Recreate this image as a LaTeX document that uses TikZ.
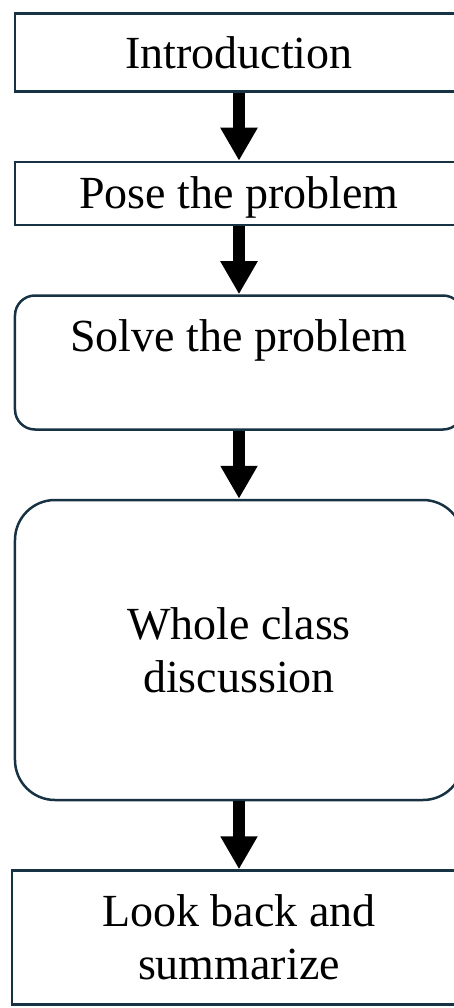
\documentclass[tikz,border=0pt]{standalone}
\usepackage{fontspec}
\setmainfont{Liberation Serif}
\usepackage{tikz}
\usetikzlibrary{arrows.meta, positioning}
\definecolor{boxline}{RGB}{23,50,66}

\begin{document}
\begin{tikzpicture}[node distance=68pt,line width=2.5pt,font=\fontsize{46pt}{53pt}\selectfont]
		\tikzstyle{stage}=[draw=boxline,fill=white,minimum width=448pt,inner sep=0pt,align=center]
		\tikzstyle{link}=[-{Triangle[width=35pt,length=33pt]},line width=12pt,draw=black]
		
		\path[use as bounding box] (-239pt,52.5pt) rectangle (215pt,-955.5pt);
		\clip (-239pt,52.5pt) rectangle (215pt,-955.5pt);
		
		\node[stage,minimum height=78pt] (intro) {Introduction};
		\node[stage,minimum height=63pt,text height=31pt,text depth=0pt] (pose) [below=of intro] {Pose the problem};
		\node[stage,minimum height=134pt,rounded corners=20pt,text height=31pt,text depth=54pt] (solve) [below=of pose] {Solve the problem};
		\node[stage,minimum height=300pt,rounded corners=40pt] (whole) [below=of solve] {Whole class\\discussion};
		\node[stage,minimum height=134pt,minimum width=454pt] (summary) [below=of whole] {Look back and\\summarize};
		
		
		\path[link]
		(intro) edge (pose)
		(pose) edge (solve)
		(solve) edge (whole)
		(whole) edge (summary);


\end{tikzpicture}
\end{document}
